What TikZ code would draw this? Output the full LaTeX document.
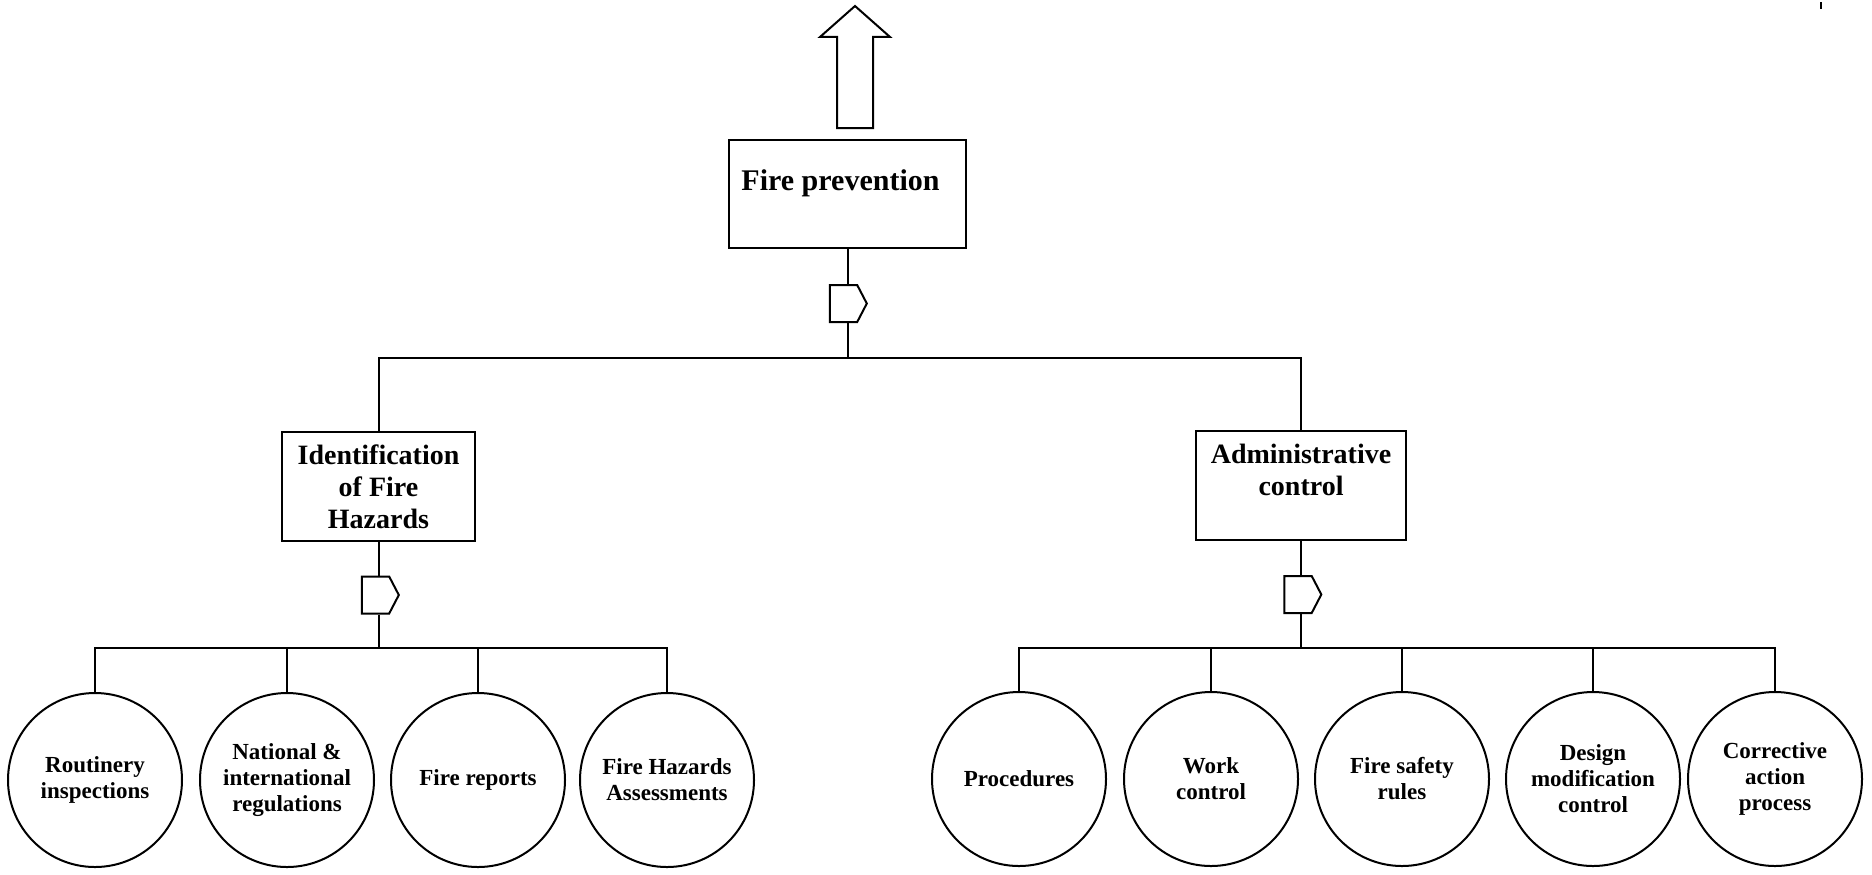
\documentclass[tikz,border=0pt]{standalone}
\usepackage{fontspec}
\setmainfont{Liberation Serif}
\usetikzlibrary{shapes.symbols,shapes.arrows}
\begin{document}
\begin{tikzpicture}[x=0.5pt,y=-0.5pt,line width=1pt,
  box/.style={draw,rectangle,inner sep=0pt,align=center,
    font=\fontsize{14}{16}\selectfont\bfseries},
  leaf/.style={draw,circle,minimum size=87pt,inner sep=0pt,align=center,
    font=\fontsize{11.5}{13}\selectfont\bfseries},
  gate/.style={draw,signal,signal to=east,signal pointer angle=125,
    minimum width=18.5pt,minimum height=18.5pt,inner sep=0pt}]
  \useasboundingbox (0,0) rectangle (1872,874);
  % top event and arrow
  \node[draw,single arrow,rotate=90,anchor=tail,minimum height=61pt,minimum width=34pt,
    single arrow head extend=8.5pt,single arrow tip angle=97,
    inner xsep=0pt,inner ysep=8.5pt] (up) at (855,129) {};
  \node[box,minimum width=118.5pt,text height=25pt,text depth=29pt,
    font=\fontsize{15}{18}\selectfont\bfseries] (fp) at (847.5,194)
    {Fire prevention\hspace*{7pt}};
  \node[gate] (g0) at (843.5,303.5) {};
  \coordinate (b0) at (847.5,358);
  % second level
  \node[box,minimum width=96.5pt,minimum height=54.5pt] (idf) at (378.5,486.5)
    {Identification\\of Fire\\Hazards};
  \node[box,minimum width=105pt,minimum height=54.5pt] (adm) at (1301,485.5)
    {Administrative\\control\\\mbox{}};
  \node[gate] (g1) at (375.5,595) {};
  \node[gate] (g2) at (1298,594.5) {};
  \coordinate (b1) at (378.5,648);
  \coordinate (b2) at (1301,648);
  % basic events
  \node[leaf] (c1) at (95,780) {Routinery\\inspections};
  \node[leaf] (c2) at (287,780) {National \&\\international\\regulations};
  \node[leaf] (c3) at (478,780) {Fire reports};
  \node[leaf] (c4) at (667,780) {Fire Hazards\\Assessments};
  \node[leaf] (d1) at (1019,779) {Procedures};
  \node[leaf] (d2) at (1211,779) {Work\\control};
  \node[leaf] (d3) at (1402,779) {Fire safety\\rules};
  \node[leaf] (d4) at (1593,779) {Design\\modification\\control};
  \node[leaf] (d5) at (1775,779) {Corrective\\action\\process};
  % connectors
  \draw (fp) -- (fp |- g0.north);
  \draw (fp |- g0.south) -- (b0);
  \draw (idf.north) |- (b0) -| (adm.north);
  \draw (idf) -- (idf |- g1.north);
  \draw (idf |- g1.south) -- (b1);
  \draw (adm) -- (adm |- g2.north);
  \draw (adm |- g2.south) -- (b2);
  \draw (c1.north) |- (b1) -| (c4.north);
  \draw (d1.north) |- (b2) -| (d5.north);
  \foreach \n in {c2,c3}
    \draw (\n.north) -- (\n.north |- b1);
  \foreach \n in {d2,d3,d4}
    \draw (\n.north) -- (\n.north |- b2);
  \draw (1821,2) -- (1821,9);
\end{tikzpicture}
\end{document}
